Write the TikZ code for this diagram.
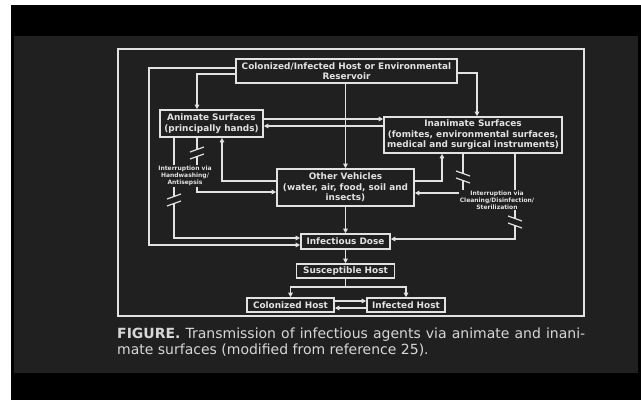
\documentclass[tikz,border=0pt]{standalone}
\usepackage{fontspec}
\setmainfont{DejaVu Sans}
\usetikzlibrary{arrows.meta}
\definecolor{panel}{RGB}{32,32,32}
\definecolor{fg}{RGB}{226,226,226}
\definecolor{captxt}{RGB}{215,215,215}
\tikzset{
  box/.style={draw=fg, line width=1.6pt, inner sep=0pt, align=center, text=fg,
    font=\fontsize{8.9}{10.5}\selectfont\bfseries},
  conn/.style={draw=fg, line width=1.2pt},
  arr/.style={-{Triangle[length=4.5pt,width=4.5pt]}},
  lbl/.style={fill=panel, inner sep=1pt, align=center, text=fg,
    font=\fontsize{6}{6.8}\selectfont\bfseries},
  brkgap/.style={draw=panel, line width=2.2pt},
  brkmark/.style={draw=fg, line width=1.2pt},
}
\begin{document}
\begin{tikzpicture}[x=1pt,y=-1pt]
\useasboundingbox (0,0) rectangle (641,400);
\fill[white] (0,0) rectangle (641,400);
\fill[black] (11,5) rectangle (641,400);
\fill[panel] (14,36) rectangle (638,373);
% frame
\draw[fg, line width=1.8pt] (118,49) rectangle (584,316);
% nodes
\node[box, minimum width=221pt, minimum height=24pt] (top) at (346.5,71)
  {Colonized/Infected Host or Environmental\\Reservoir};
\node[box, minimum width=103pt, minimum height=27pt] (anim) at (211.5,123.5)
  {Animate Surfaces\\(principally hands)};
\node[box, minimum width=178pt, minimum height=36pt] (inanim) at (473,135)
  {Inanimate Surfaces\\(fomites, environmental surfaces,\\medical and surgical instruments)};
\node[box, minimum width=137pt, minimum height=37pt] (other) at (345.5,187.5)
  {Other Vehicles\\(water, air, food, soil and\\insects)};
\node[box, minimum width=89pt, minimum height=15pt] (dose) at (345.5,241.5) {Infectious Dose};
\node[box, minimum width=98pt, minimum height=14pt] (susc) at (345.5,271) {Susceptible Host};
\node[box, minimum width=87pt, minimum height=14pt] (colh) at (290.5,305) {Colonized Host};
\node[box, minimum width=78pt, minimum height=14pt] (infh) at (406,305) {Infected Host};
% connectors from top
\draw[conn,arr] (top.west |- 0,68) -| (149,245) -- (dose.west |- 0,245);
\draw[conn,arr] (top.west |- 0,74) -| (anim.north -| 197,0);
\draw[conn,arr] (top.east |- 0,73) -| (inanim.north -| 477,0);
\draw[conn,arr] (top.south -| other.north) -- (other.north);
% animate <-> inanimate
\draw[conn,arr] (anim.east |- 0,119) -- (inanim.west |- 0,119);
\draw[conn,arr] (inanim.west |- 0,126) -- (anim.east |- 0,126);
% left side
\draw[conn,arr] (other.west |- 0,181) -| (anim.south -| 222,0);
\draw[conn,arr] (anim.south -| 197,0) |- (other.west |- 0,192);
\draw[conn,arr] (anim.south -| 174,0) |- (dose.west |- 0,238);
% right side
\draw[conn,arr] (other.east |- 0,181) -| (inanim.south -| 442,0);
\draw[conn,arr] (inanim.south -| 463,0) |- (other.east |- 0,193);
\draw[conn,arr] (inanim.south -| 515,0) |- (dose.east |- 0,239);
% central chain
\draw[conn,arr] (other.south -| dose.north) -- (dose.north);
\draw[conn,arr] (dose.south) -- (dose.south |- susc.north);
\draw[conn] (susc.south) -- (susc.south |- 0,287) coordinate (split);
\draw[conn,arr] (split) -| (colh.north);
\draw[conn,arr] (split) -| (infh.north);
\draw[conn,arr] (colh.east |- 0,301) -- (infh.west |- 0,301);
\draw[conn,arr] (infh.west |- 0,308) -- (colh.east |- 0,308);
% break marks (left: /, right: \)
\draw[brkgap] (197,149.5) -- (197,156.5);
\draw[brkmark] (190,152) -- (204,147);
\draw[brkmark] (190,159) -- (204,154);
\draw[brkgap] (174,196.5) -- (174,203.5);
\draw[brkmark] (167,199) -- (181,194);
\draw[brkmark] (167,206) -- (181,201);
\draw[brkgap] (463,173.5) -- (463,180.5);
\draw[brkmark] (456,171) -- (470,176);
\draw[brkmark] (456,178) -- (470,183);
\draw[brkgap] (515,218.5) -- (515,225.5);
\draw[brkmark] (508,216) -- (522,221);
\draw[brkmark] (508,223) -- (522,228);
% labels
\node[lbl] (lab1) at (185,176) {Interruption via\\Handwashing/\\Antisepsis};
\node[lbl] (lab2) at (497,200) {Interruption via\\Cleaning/Disinfection/\\Sterilization};
% caption
\node[anchor=base west, inner sep=0pt, text=captxt, font=\fontsize{14}{16}\selectfont] (cap1) at (117,338)
  {\makebox[468pt][s]{\textbf{FIGURE.} Transmission of infectious agents via animate and inani-}};
\node[anchor=base west, inner sep=0pt, text=captxt, font=\fontsize{14}{16}\selectfont] (cap2) at (117,354)
  {mate surfaces (modified from reference 25).};
\end{tikzpicture}
\end{document}
